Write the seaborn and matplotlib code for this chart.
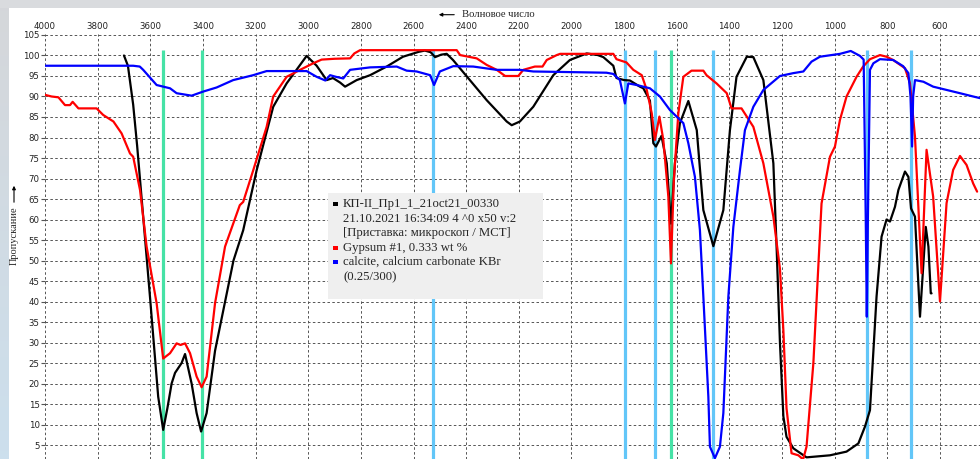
import numpy as np
import pandas as pd
import matplotlib
matplotlib.use("Agg")
import matplotlib.pyplot as plt
import seaborn as sns
from matplotlib.patches import Rectangle
from matplotlib.transforms import Affine2D

# ---- spectra (wavenumber, cm-1 / transmittance, %) ----
sample_wn = [3700, 3685, 3665, 3650, 3627, 3601, 3570, 3551, 3535, 3519, 3506, 3481, 3468,
             3443, 3424, 3407, 3386, 3354, 3284, 3247, 3196, 3133, 3082, 3006, 2968, 2930,
             2906, 2879, 2860, 2816, 2765, 2702, 2640, 2580, 2557, 2535, 2518, 2495, 2474,
             2450, 2386, 2322, 2246, 2227, 2196, 2145, 2069, 2006, 1942, 1900, 1879, 1841,
             1829, 1800, 1778, 1740, 1727, 1702, 1689, 1679, 1658, 1638, 1622, 1607, 1588,
             1556, 1524, 1499, 1461, 1423, 1398, 1373, 1334, 1309, 1271, 1233, 1220, 1208,
             1195, 1183, 1157, 1107, 1018, 955, 910, 885, 866, 841, 822, 803, 790, 771, 758,
             733, 720, 710, 695, 676, 663, 654, 644, 635, 632]
sample_t = [100, 97.5, 88, 78, 60.7, 41, 16.8, 8.7, 14, 20, 22.6, 25, 27.2,
            20, 12.8, 8.3, 12.8, 28, 50, 57.4, 72, 87.5, 93.2, 99.9, 97.5, 94,
            94.5, 93.4, 92.4, 94, 95.2, 97.3, 99.7, 100.9, 101.2, 100.8, 99.6, 100.2, 100.4,
            98.9, 94, 89.1, 83.9, 83, 83.9, 87.5, 95.2, 98.9, 100.5, 100.1, 99.6, 97.5,
            94.5, 94, 93.9, 92.4, 92, 89, 78.6, 77.8, 80.4, 73.7, 59, 73.7, 83.5,
            88.9, 81.8, 62.3, 53.5, 62.3, 81.8, 94.8, 99.7, 99.6, 94, 73.7, 52, 30,
            12, 7, 4.2, 2, 2.5, 3.4, 5.4, 9.5, 13.5, 41.2, 55.8, 60, 59.5, 63.1, 67.2,
            71.7, 70.4, 62.7, 60.7, 36.3, 49.3, 58.2, 53.4, 42, 42]

gypsum_wn = [4000, 3975, 3949, 3924, 3905, 3895, 3873, 3804, 3779, 3740, 3709, 3677, 3665,
             3639, 3614, 3576, 3551, 3525, 3500, 3485, 3468, 3449, 3424, 3405, 3386, 3354,
             3316, 3285, 3260, 3247, 3209, 3158, 3133, 3082, 3031, 2981, 2949, 2900, 2841,
             2825, 2803, 2436, 2423, 2360, 2322, 2284, 2252, 2202, 2183, 2139, 2110, 2094,
             2056, 2043, 1841, 1829, 1791, 1765, 1733, 1714, 1695, 1683, 1666, 1651, 1632,
             1622, 1611, 1594, 1575, 1544, 1499, 1487, 1449, 1410, 1392, 1354, 1309, 1271,
             1233, 1208, 1195, 1183, 1164, 1138, 1120, 1107, 1081, 1050, 1018, 999, 980, 955,
             917, 892, 866, 828, 803, 778, 733, 714, 695, 670, 651, 626, 600, 575, 550, 524,
             499, 474, 459]
gypsum_t = [90.4, 90, 89.8, 87.9, 87.9, 88.7, 87.1, 87.1, 85.5, 83.9, 81, 76.1, 75.3,
            67.2, 53.4, 39.6, 26.1, 27.4, 29.8, 29.4, 29.8, 27.4, 21.7, 19.1, 21.7, 39.6,
            53.4, 59, 63.5, 64.3, 72, 82.6, 90, 94.8, 96.5, 98.1, 99, 99.2, 99.3,
            100.5, 101.3, 101.3, 100.1, 99.3, 97.7, 96.5, 95, 95, 96.5, 97.3, 97.3, 98.9,
            100.1, 100.4, 100.4, 99.1, 98.3, 96.5, 95.2, 91.6, 85.9, 79.4, 85.1, 79.4, 65.6,
            49.3, 69.6, 85.9, 94.8, 96.3, 96.3, 95.2, 93.2, 90.8, 87.1, 87.1, 82.6, 73.7,
            60.7, 48, 33, 14, 3, 2.5, 1.5, 4.6, 25, 63.9, 75.3, 77.8, 84.3, 90,
            94.8, 97.3, 99.1, 100.1, 99.7, 98.9, 96.9, 93.2, 80.2, 46.9, 77, 65.6, 40, 64, 72.1, 75.5,
            73.3, 68.8, 66.8]

calcite_wn = [4000, 3665, 3640, 3627, 3576, 3525, 3500, 3443, 3399, 3348, 3285, 3209, 3158,
              3006, 2968, 2935, 2917, 2895, 2867, 2841, 2765, 2664, 2626, 2588, 2537, 2522,
              2500, 2449, 2373, 2284, 2196, 2145, 1867, 1841, 1816, 1797, 1784, 1752, 1702,
              1664, 1626, 1575, 1556, 1531, 1512, 1499, 1480, 1474, 1455, 1436, 1423, 1404,
              1385, 1360, 1341, 1309, 1271, 1208, 1157, 1119, 1088, 1056, 980, 939, 904, 890,
              882, 878, 874, 866, 853, 828, 778, 740, 720, 712, 706, 702, 695, 663, 626, 575,
              524, 474, 448]
calcite_t = [97.5, 97.5, 97.3, 96.5, 92.8, 92, 90.8, 90.2, 91.2, 92.2, 94, 95.2, 96.2,
             96.2, 94.8, 93.9, 95.2, 94.8, 94.4, 96.5, 97.1, 97.3, 96.3, 96.1, 95.2, 92.8,
             96.1, 97.4, 97.3, 96.5, 96.5, 96.1, 95.8, 95.5, 94, 88.3, 93.2, 92.8, 92,
             90, 86.7, 83.5, 78.6, 70.4, 57.4, 41.2, 16.8, 4.6, 1.8, 4.6, 12.8, 41.2,
             58.2, 72, 81.8, 87.5, 91.6, 95, 95.7, 96.1, 98.5, 99.7, 100.4, 101.1, 99.9, 99,
             60, 36.3, 60, 96.5, 98.1, 99.1, 98.9, 97.4, 95.7, 90, 77.8, 90, 94, 93.6, 92.4, 91.6,
             90.8, 90, 89.6]

series_names = ["КП-II_Пр1_1_21oct21_00330", "Gypsum #1, 0.333 wt %",
                "calcite, calcium carbonate KBr"]
series_colors = ["#000000", "#ff0000", "#0000ff"]

# marked bands
band_blue = [2526, 1797, 1683, 1463, 878, 710]
band_green = [3551, 3405, 1623]

legend_lines = ["КП-II_Пр1_1_21oct21_00330",
                "21.10.2021 16:34:09 4 ^0 x50 v:2",
                "[Приставка: микроскоп / MCT]",
                "Gypsum #1, 0.333 wt %",
                "calcite, calcium carbonate KBr",
                "(0.25/300)"]

x_ticks = list(range(4000, 599, -200))
y_ticks = list(range(5, 106, 5))

df = pd.concat([
    pd.DataFrame({"wn": sample_wn, "T": sample_t, "spectrum": series_names[0]}),
    pd.DataFrame({"wn": gypsum_wn, "T": gypsum_t, "spectrum": series_names[1]}),
    pd.DataFrame({"wn": calcite_wn, "T": calcite_t, "spectrum": series_names[2]}),
], ignore_index=True)

# ---- figure ----
sns.set_style("white")
W, H = 980, 459
fig = plt.figure(figsize=(W / 100, H / 100), dpi=100)
fig.patch.set_facecolor("#d9dbde")
px = Affine2D().scale(1 / W, -1 / H).translate(0, 1) + fig.transFigure

# window frame: white panel + bluish left border
fig.add_artist(Rectangle((8, 8), W - 8, H - 8, transform=px, facecolor="white",
                         edgecolor="none", zorder=-10))
side = fig.add_axes([0, 0, 8 / W, 1 - 8 / H], zorder=-5)
grad = np.linspace(0, 1, 200)[:, None]
top_c = np.array([0.835, 0.843, 0.855])
bot_c = np.array([0.80, 0.875, 0.93])
img = top_c[None, None, :] * (1 - grad[:, :, None]) + bot_c[None, None, :] * grad[:, :, None]
side.imshow(img, aspect="auto", extent=[0, 1, 0, 1])
side.axis("off")

ax = fig.add_axes([45 / W, 0, (W - 45) / W, 425 / H])
ax.set_facecolor("white")

ax.vlines(band_blue, 0, 101.3, colors="#62c6f8", linewidth=2.3, zorder=2)
ax.vlines(band_green, 0, 101.3, colors="#46e2a6", linewidth=2.3, zorder=2)

sns.lineplot(data=df, x="wn", y="T", hue="spectrum", hue_order=series_names,
             palette=series_colors, sort=False, estimator=None, linewidth=1.6,
             legend=False, ax=ax, zorder=3)

ax.set_xlim(4000, 448)
ax.set_ylim(1.6, 105.24)
ax.set_xticks(x_ticks)
ax.set_yticks(y_ticks)
ax.xaxis.tick_top()
ax.set_xlabel("")
ax.set_ylabel("")
for s in ax.spines.values():
    s.set_visible(False)
ax.grid(True, color="#555555", linestyle=(0, (2.6, 2.4)), linewidth=0.7, zorder=1)
ax.set_axisbelow(True)
ax.tick_params(axis="x", length=0, pad=2.5, labelsize=6.2, labelcolor="#222222")
ax.tick_params(axis="y", left=True, length=3, width=0.8, pad=0.8, labelsize=6.2,
               color="#555555", labelcolor="#222222")
for lab in ax.get_xticklabels() + ax.get_yticklabels():
    lab.set_family("DejaVu Sans")

# axis captions
fig.text(462, 14.7, "Волновое число", transform=px, ha="left", va="center",
         family="Liberation Serif", size=7.7)
fig.add_artist(matplotlib.patches.FancyArrowPatch(
    (457, 14.7), (436, 14.7), transform=px, arrowstyle="-|>", mutation_scale=5,
    color="black", linewidth=0.8))
fig.text(14, 236, "Пропускание", transform=px, ha="center", va="center", rotation=90,
         family="Liberation Serif", size=7.5)
fig.add_artist(matplotlib.patches.FancyArrowPatch(
    (14, 205), (14, 183), transform=px, arrowstyle="-|>", mutation_scale=5,
    color="black", linewidth=0.8))

# legend box
fig.add_artist(Rectangle((328, 193), 215, 106, transform=px, facecolor="#efefef",
                         edgecolor="none", zorder=10))
line_y = [204, 219, 233, 248, 262, 277]
for y, txt in zip(line_y, legend_lines):
    fig.text(343, y, txt, transform=px, ha="left", va="center",
             family="Liberation Serif", size=9.2, zorder=11)
for y, c in zip([line_y[0], line_y[3], line_y[4]], series_colors):
    fig.add_artist(Rectangle((333, y - 2), 5, 4, transform=px, facecolor=c,
                             edgecolor="none", zorder=11))

fig.savefig("out.png", dpi=100)
